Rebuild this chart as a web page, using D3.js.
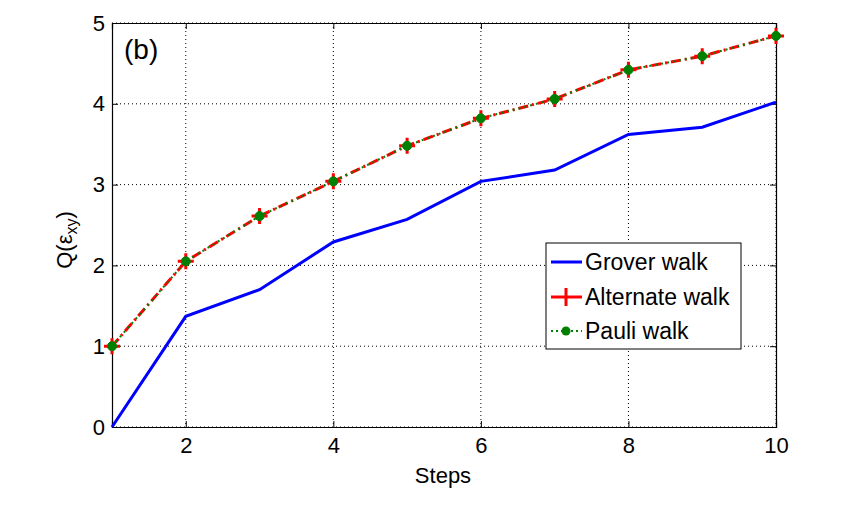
<!DOCTYPE html>
<html>
<head>
<meta charset="utf-8">
<script src="https://cdn.jsdelivr.net/npm/d3@7"></script>
<style>
  body { margin: 0; background: #fff; }
  text { font-family: "Liberation Sans", Arial, sans-serif; fill: #000; }
</style>
</head>
<body>
<svg id="chart" width="858" height="516"></svg>
<script>
const steps = [1, 2, 3, 4, 5, 6, 7, 8, 9, 10];
const grover = [0, 1.37, 1.70, 2.29, 2.57, 3.04, 3.18, 3.62, 3.71, 4.02];
const alternate = [1.0, 2.05, 2.61, 3.04, 3.48, 3.82, 4.06, 4.42, 4.59, 4.84];
const pauli = [1.0, 2.05, 2.61, 3.04, 3.48, 3.82, 4.06, 4.42, 4.59, 4.84];
const xTicks = [2, 4, 6, 8, 10];
const yTicks = [0, 1, 2, 3, 4, 5];
const legendLabels = ["Grover walk", "Alternate walk", "Pauli walk"];

const svg = d3.select("#chart");
const m = {left: 112, right: 776, top: 23, bottom: 427};
const fs = 22;

const x = d3.scaleLinear().domain([1, 10]).range([m.left, m.right]);
const y = d3.scaleLinear().domain([0, 5]).range([m.bottom, m.top]);

// grid
let grid = svg.append("g");
grid.selectAll("line.gx").data(xTicks).enter().append("line")
    .attr("x1", d => x(d)).attr("x2", d => x(d))
    .attr("y1", m.top).attr("y2", m.bottom)
    .attr("stroke", "#000").attr("stroke-width", 1).attr("stroke-dasharray", "1,3");
grid.selectAll("line.gy").data(yTicks).enter().append("line")
    .attr("y1", d => y(d)).attr("y2", d => y(d))
    .attr("x1", m.left).attr("x2", m.right)
    .attr("stroke", "#000").attr("stroke-width", 1).attr("stroke-dasharray", "1,3");

// axes
let xAxis = d3.axisBottom(x).tickValues(xTicks).tickSize(-6).tickPadding(10).tickFormat(d3.format("d"));
let yAxis = d3.axisLeft(y).tickValues(yTicks).tickSize(-6).tickPadding(7).tickFormat(d3.format("d"));
svg.append("g").attr("transform", `translate(0,${m.bottom})`).call(xAxis);
svg.append("g").attr("transform", `translate(${m.left},0)`).call(yAxis);
svg.append("g").attr("transform", `translate(0,${m.top})`)
    .call(d3.axisTop(x).tickValues(xTicks).tickSize(-6).tickFormat(""));
svg.append("g").attr("transform", `translate(${m.right},0)`)
    .call(d3.axisRight(y).tickValues(yTicks).tickSize(-6).tickFormat(""));
svg.selectAll(".domain").attr("stroke", "#000").attr("stroke-width", 1.2);
svg.selectAll(".tick line").attr("stroke", "#000");
svg.selectAll(".tick text").attr("font-size", fs).attr("font-family", "Liberation Sans, Arial, sans-serif");

// lines
let line = d3.line().x((d, i) => x(steps[i])).y(d => y(d));

svg.append("path").datum(grover).attr("d", line)
    .attr("fill", "none").attr("stroke", "#0000ff").attr("stroke-width", 3);

svg.append("path").datum(alternate).attr("d", line)
    .attr("fill", "none").attr("stroke", "#ff0000").attr("stroke-width", 3)
    .attr("stroke-dasharray", "10,4,2,4");

svg.append("path").datum(pauli).attr("d", line)
    .attr("fill", "none").attr("stroke", "#008000").attr("stroke-width", 2)
    .attr("stroke-dasharray", "2,4");

// markers
let plus = svg.append("g");
alternate.forEach((v, i) => {
    let cx = x(steps[i]), cy = y(v);
    plus.append("path")
        .attr("d", `M${cx - 8},${cy}H${cx + 8}M${cx},${cy - 8}V${cy + 8}`)
        .attr("stroke", "#ff0000").attr("stroke-width", 3);
});
svg.append("g").selectAll("circle").data(pauli).enter().append("circle")
    .attr("cx", (d, i) => x(steps[i])).attr("cy", d => y(d)).attr("r", 4.5)
    .attr("fill", "#008000").attr("stroke", "#008000").attr("stroke-width", 1);

// labels
svg.append("text").attr("x", 443).attr("y", 483).attr("text-anchor", "middle")
    .attr("font-size", fs).text("Steps");

let yl = svg.append("text").attr("transform", "translate(72,240) rotate(-90)")
    .attr("text-anchor", "middle").attr("font-size", fs);
yl.append("tspan").text("Q(ε");
yl.append("tspan").attr("font-size", 16).attr("dy", 5).text("xy");
yl.append("tspan").attr("dy", -5).text(")");

svg.append("text").attr("x", 124).attr("y", 59).attr("font-size", 28).text("(b)");

// legend
let lg = svg.append("g");
lg.append("rect").attr("x", 546).attr("y", 243).attr("width", 195).attr("height", 106)
    .attr("fill", "#fff").attr("stroke", "#000").attr("stroke-width", 1);
let ly = [262, 297, 331];
lg.append("line").attr("x1", 551).attr("x2", 582).attr("y1", ly[0]).attr("y2", ly[0])
    .attr("stroke", "#0000ff").attr("stroke-width", 3);
lg.append("line").attr("x1", 551).attr("x2", 582).attr("y1", ly[1]).attr("y2", ly[1])
    .attr("stroke", "#ff0000").attr("stroke-width", 3);
lg.append("path").attr("d", `M566,${ly[1] - 9}V${ly[1] + 9}`)
    .attr("stroke", "#ff0000").attr("stroke-width", 3);
lg.append("line").attr("x1", 551).attr("x2", 582).attr("y1", ly[2]).attr("y2", ly[2])
    .attr("stroke", "#008000").attr("stroke-width", 2).attr("stroke-dasharray", "2,3");
lg.append("circle").attr("cx", 566).attr("cy", ly[2]).attr("r", 4.5).attr("fill", "#008000");
legendLabels.forEach((t, i) => {
    lg.append("text").attr("x", 585).attr("y", ly[i] + 8).attr("font-size", 23).text(t);
});
</script>
</body>
</html>
